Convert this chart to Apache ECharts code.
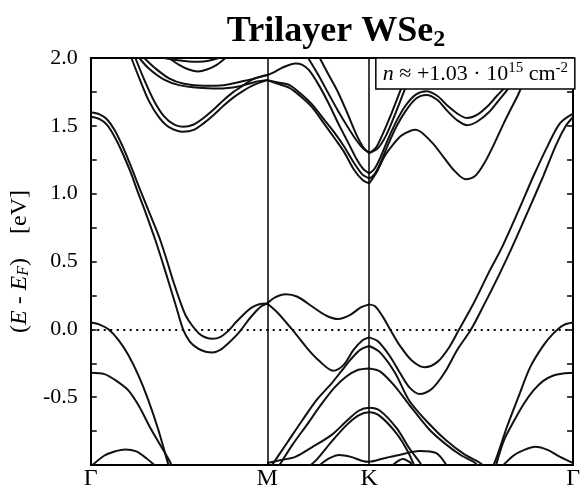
<!DOCTYPE html>
<html><head><meta charset="utf-8">
<script src="https://cdn.jsdelivr.net/npm/echarts@6/dist/echarts.min.js"></script>
<style>html,body{margin:0;padding:0;background:#fff}#c{width:583px;height:491px}</style>
</head><body><div id="c"></div>
<script>
// high-symmetry points along the k-path (Γ-M-K-Γ, units of 2π/a)
const symLabels = ['Γ', 'M', 'K', 'Γ'];
const symPos = [0, 0.5774, 0.9107, 1.5774];
const fermiLevel = 0;
const yMin = -1, yMax = 2, yStep = 0.5;

// ---- Γ - M ----
const bandA1 = [[0,1.60],[0.029,1.585],[0.052,1.55],[0.078,1.47],[0.104,1.35],[0.130,1.21],[0.156,1.06],[0.188,0.88],[0.208,0.77],[0.227,0.66],[0.250,0.50],[0.272,0.34],[0.295,0.19],[0.311,0.10],[0.331,0.03],[0.354,-0.03],[0.376,-0.06],[0.399,-0.07],[0.425,-0.055],[0.448,-0.015],[0.474,0.05],[0.500,0.11],[0.526,0.16],[0.551,0.185],[0.5774,0.19]];
const bandA2 = [[0,1.567],[0.029,1.55],[0.052,1.51],[0.078,1.42],[0.104,1.30],[0.130,1.16],[0.156,1.00],[0.178,0.87],[0.211,0.66],[0.234,0.50],[0.256,0.34],[0.279,0.17],[0.302,0.0],[0.324,-0.09],[0.350,-0.14],[0.376,-0.165],[0.399,-0.17],[0.425,-0.15],[0.451,-0.10],[0.474,-0.05],[0.493,0.0],[0.516,0.07],[0.539,0.13],[0.558,0.17],[0.5774,0.19]];
const bandC1 = [[0.146,2.0],[0.175,1.84],[0.208,1.68],[0.240,1.57],[0.272,1.51],[0.302,1.493],[0.337,1.51],[0.370,1.56],[0.402,1.62],[0.435,1.69],[0.467,1.75],[0.500,1.80],[0.532,1.845],[0.5774,1.874]];
const bandC2 = [[0.133,2.0],[0.159,1.85],[0.191,1.68],[0.224,1.56],[0.256,1.49],[0.302,1.456],[0.337,1.47],[0.370,1.52],[0.402,1.58],[0.435,1.65],[0.467,1.71],[0.500,1.76],[0.532,1.80],[0.5774,1.837]];
const bandC3 = [[0.159,2.0],[0.191,1.92],[0.240,1.84],[0.289,1.80],[0.354,1.78],[0.418,1.775],[0.483,1.79],[0.532,1.82],[0.5774,1.837]];
const bandC4 = [[0.175,2.0],[0.208,1.93],[0.256,1.85],[0.305,1.81],[0.370,1.795],[0.435,1.80],[0.500,1.83],[0.5774,1.874]];
const bandD1 = [[0.256,2.0],[0.289,1.95],[0.321,1.915],[0.350,1.90],[0.380,1.915],[0.412,1.95],[0.441,2.0]];
const bandD2 = [[0.240,2.0],[0.279,1.985],[0.321,1.975],[0.354,1.972],[0.386,1.98],[0.418,2.0]];
const bandL1 = [[0,0.05],[0.029,0.035],[0.058,0.0],[0.091,-0.08],[0.123,-0.19],[0.156,-0.34],[0.188,-0.52],[0.221,-0.74],[0.253,-0.99],[0.260,-1.04]];
const bandL2 = [[0,-0.32],[0.045,-0.33],[0.084,-0.38],[0.123,-0.45],[0.159,-0.57],[0.191,-0.71],[0.224,-0.84],[0.260,-0.98],[0.269,-1.04]];
const bandL3 = [[0.006,-1.0],[0.045,-0.93],[0.078,-0.90],[0.114,-0.885],[0.149,-0.90],[0.182,-0.95],[0.208,-1.0]];

// ---- M - K ----
const bandV1 = [[0.5774,0.19],[0.603,0.235],[0.638,0.258],[0.676,0.24],[0.723,0.17],[0.771,0.10],[0.809,0.076],[0.851,0.11],[0.882,0.16],[0.9107,0.184]];
const bandV2 = [[0.5774,0.19],[0.612,0.12],[0.669,-0.03],[0.708,-0.14],[0.746,-0.23],[0.793,-0.305],[0.828,-0.26],[0.860,-0.15],[0.889,-0.08],[0.9107,-0.059]];
const bandV3 = [[0.587,-1.02],[0.644,-0.83],[0.692,-0.67],[0.739,-0.52],[0.787,-0.40],[0.819,-0.31],[0.851,-0.22],[0.882,-0.15],[0.9107,-0.123]];
const bandV4 = [[0.612,-1.02],[0.660,-0.85],[0.708,-0.70],[0.755,-0.55],[0.797,-0.43],[0.835,-0.35],[0.873,-0.30],[0.9107,-0.288]];
const bandX1 = [[0.5774,-0.985],[0.612,-0.968],[0.669,-0.94],[0.723,-0.87],[0.787,-0.78],[0.835,-0.68],[0.876,-0.60],[0.9107,-0.578],[0.946,-0.60],[1.001,-0.73],[1.043,-0.88],[1.076,-0.98],[1.089,-1.03]];
const bandX2 = [[0.708,-1.02],[0.739,-0.96],[0.787,-0.83],[0.835,-0.71],[0.876,-0.635],[0.9107,-0.612],[0.946,-0.64],[1.001,-0.77],[1.037,-0.90],[1.063,-1.03]];
const bandX3 = [[0.749,-1.0],[0.781,-0.95],[0.812,-0.926],[0.851,-0.94],[0.889,-0.97],[0.9107,-0.976],[0.960,-0.95],[1.000,-0.93],[1.076,-0.897],[1.130,-0.913],[1.163,-1.0]];
const bandX4 = [[0.988,-1.0],[1.021,-0.955],[1.050,-0.99]];
const bandU1 = [[0.5774,1.874],[0.603,1.90],[0.628,1.93],[0.669,1.96],[0.692,1.95],[0.714,1.91],[0.746,1.80],[0.777,1.67],[0.809,1.52],[0.841,1.38],[0.873,1.24],[0.892,1.18],[0.9107,1.15]];
const bandU2 = [[0.711,2.0],[0.743,1.88],[0.777,1.74],[0.809,1.61],[0.841,1.49],[0.870,1.39],[0.892,1.33],[0.9107,1.30]];
const bandU3 = [[0.749,2.0],[0.777,1.88],[0.806,1.76],[0.838,1.60],[0.870,1.43],[0.892,1.34],[0.9107,1.30]];
const bandU4 = [[0.5774,1.837],[0.612,1.82],[0.650,1.80],[0.685,1.74],[0.723,1.66],[0.762,1.55],[0.797,1.45],[0.828,1.35],[0.860,1.23],[0.889,1.14],[0.9107,1.113]];
const bandU5 = [[0.5774,1.837],[0.612,1.81],[0.650,1.78],[0.685,1.72],[0.723,1.64],[0.762,1.52],[0.797,1.41],[0.828,1.31],[0.860,1.18],[0.889,1.10],[0.9107,1.076]];

// ---- K - Γ ----
const bandW1 = [[0.9107,0.184],[0.930,0.17],[0.956,0.09],[0.979,0.0],[1.011,-0.12],[1.050,-0.23],[1.092,-0.28],[1.134,-0.24],[1.173,-0.13],[1.205,0.0],[1.254,0.2],[1.302,0.42],[1.344,0.6],[1.400,0.88],[1.448,1.13],[1.496,1.36],[1.535,1.52],[1.5774,1.59]];
const bandW2 = [[0.9107,-0.059],[0.940,-0.09],[0.979,-0.2],[1.011,-0.32],[1.043,-0.43],[1.076,-0.477],[1.115,-0.44],[1.157,-0.32],[1.199,-0.15],[1.244,0.0],[1.286,0.18],[1.335,0.40],[1.377,0.6],[1.432,0.88],[1.480,1.13],[1.522,1.36],[1.554,1.50],[1.5774,1.565]];
const bandW3 = [[0.9107,-0.123],[0.946,-0.17],[0.995,-0.32],[1.043,-0.53],[1.108,-0.70],[1.163,-0.82],[1.221,-0.92],[1.270,-0.98],[1.296,-1.03]];
const bandW4 = [[0.9107,-0.288],[0.946,-0.31],[0.995,-0.42],[1.043,-0.56],[1.108,-0.74],[1.163,-0.85],[1.212,-0.93],[1.254,-0.98],[1.276,-1.03]];
const bandG1 = [[1.312,-1.03],[1.328,-0.94],[1.361,-0.72],[1.400,-0.49],[1.438,-0.275],[1.480,-0.12],[1.513,-0.03],[1.545,0.03],[1.5774,0.05]];
const bandG2 = [[1.322,-1.03],[1.351,-0.82],[1.383,-0.68],[1.416,-0.55],[1.448,-0.45],[1.480,-0.38],[1.513,-0.34],[1.545,-0.325],[1.5774,-0.32]];
const bandG3 = [[1.341,-1.02],[1.383,-0.93],[1.416,-0.89],[1.454,-0.865],[1.496,-0.89],[1.535,-0.94],[1.5774,-0.985]];
const bandY1 = [[0.9107,1.30],[0.933,1.34],[0.953,1.43],[0.985,1.60],[1.011,1.75],[1.034,1.88],[1.053,2.0]];
const bandY2 = [[0.9107,1.30],[0.937,1.33],[0.966,1.43],[0.998,1.60],[1.024,1.75],[1.047,1.88],[1.066,2.0]];
const bandY3 = [[0.9107,1.15],[0.927,1.18],[0.946,1.26],[0.972,1.40],[1.001,1.54],[1.030,1.65],[1.063,1.73],[1.098,1.755],[1.134,1.72],[1.166,1.65],[1.199,1.59],[1.231,1.557],[1.263,1.58],[1.296,1.64],[1.328,1.72],[1.361,1.80],[1.383,1.87],[1.402,1.95],[1.412,2.0]];
const bandY4 = [[0.9107,1.11],[0.927,1.14],[0.946,1.22],[0.972,1.36],[1.001,1.50],[1.030,1.61],[1.063,1.70],[1.098,1.727],[1.134,1.69],[1.166,1.61],[1.199,1.54],[1.231,1.505],[1.263,1.53],[1.302,1.60],[1.335,1.69],[1.367,1.78],[1.390,1.87],[1.409,1.95],[1.419,2.0]];
const bandY5 = [[0.9107,1.076],[0.933,1.15],[0.962,1.28],[0.988,1.36],[1.017,1.43],[1.063,1.472],[1.115,1.38],[1.157,1.26],[1.189,1.17],[1.225,1.107],[1.257,1.13],[1.286,1.22],[1.318,1.36],[1.351,1.52],[1.373,1.62],[1.400,1.74],[1.422,1.87],[1.441,2.0]];

const bands = [bandA1,bandA2,bandC1,bandC2,bandC3,bandC4,bandD1,bandD2,bandL1,bandL2,bandL3,
  bandV1,bandV2,bandV3,bandV4,bandX1,bandX2,bandX3,bandX4,bandU1,bandU2,bandU3,bandU4,bandU5,
  bandW1,bandW2,bandW3,bandW4,bandG1,bandG2,bandG3,bandY1,bandY2,bandY3,bandY4,bandY5];

const FONT = '"Liberation Serif", "Times New Roman", serif';
const BLACK = '#000';

const series = bands.map(b => ({
  type: 'line', data: b, showSymbol: false, smooth: 0.3, silent: true, clip: true,
  lineStyle: { color: '#111', width: 2 }
}));
series[0].markLine = {
  silent: true, symbol: 'none', label: { show: false },
  data: [
    { yAxis: fermiLevel, lineStyle: { type: [2, 4.5], width: 1.8, color: BLACK } },
    { xAxis: symPos[1], lineStyle: { type: 'solid', width: 1.5, color: BLACK } },
    { xAxis: symPos[2], lineStyle: { type: 'solid', width: 1.5, color: BLACK } }
  ]
};

const axisLineStyle = { show: true, onZero: false, lineStyle: { color: BLACK, width: 2 } };
const tickStyle = { color: BLACK, width: 1.5 };

const chart = echarts.init(document.getElementById('c'), null, { renderer: 'canvas' });
chart.setOption({
  animation: false,
  backgroundColor: '#fff',
  title: [
    {
      text: '{b|Trilayer WSe}{s|2}',
      left: 331, top: 7, textAlign: 'center',
      textStyle: {
        rich: {
          b: { fontFamily: FONT, fontSize: 36, fontWeight: 'bold', color: BLACK, lineHeight: 40 },
          s: { fontFamily: FONT, fontSize: 24, fontWeight: 'bold', color: BLACK, lineHeight: 14, verticalAlign: 'bottom' }
        }
      }
    },
    {
      text: '{i|n} ≈ +1.03 · 10{sup|15} cm{sup|-2}',
      right: 8, top: 58,
      backgroundColor: '#fff', borderColor: BLACK, borderWidth: 1.5,
      padding: [3, 7, 2, 7],
      textStyle: {
        fontFamily: FONT, fontSize: 22, color: BLACK, fontWeight: 'normal', lineHeight: 26,
        rich: {
          i: { fontFamily: FONT, fontSize: 22, fontStyle: 'italic', color: BLACK, lineHeight: 26 },
          sup: { fontFamily: FONT, fontSize: 15, color: BLACK, lineHeight: 14, verticalAlign: 'top' }
        }
      }
    }
  ],
  grid: { left: 86, right: 8, top: 58, bottom: 26, containLabel: false },
  xAxis: [
    {
      type: 'value', min: symPos[0], max: symPos[3], position: 'bottom',
      axisLine: axisLineStyle, axisTick: { show: false }, splitLine: { show: false },
      axisLabel: {
        customValues: symPos,
        formatter: v => symLabels[symPos.indexOf(v)],
        fontFamily: FONT, fontSize: 24, color: BLACK, margin: 2
      }
    },
    {
      type: 'value', min: symPos[0], max: symPos[3], position: 'top',
      axisLine: axisLineStyle, axisTick: { show: false }, splitLine: { show: false },
      axisLabel: { show: false }
    }
  ],
  yAxis: [
    {
      type: 'value', min: yMin, max: yMax, interval: yStep, position: 'left',
      axisLine: axisLineStyle,
      axisTick: { show: true, inside: true, length: 6, lineStyle: tickStyle },
      minorTick: { show: true, splitNumber: 2, length: 6, lineStyle: tickStyle },
      splitLine: { show: false },
      axisLabel: {
        formatter: v => (v === yMin ? '' : v.toFixed(1)),
        fontFamily: FONT, fontSize: 22, color: BLACK, margin: 13
      },
      name: '({i|E} - {i|E}{sub|F})    [eV]',
      nameLocation: 'middle', nameRotate: 90, nameGap: 52,
      nameTextStyle: {
        fontFamily: FONT, fontSize: 24, color: BLACK,
        rich: {
          i: { fontFamily: FONT, fontSize: 24, fontStyle: 'italic', color: BLACK },
          sub: { fontFamily: FONT, fontSize: 16, fontStyle: 'italic', color: BLACK, lineHeight: 10, verticalAlign: 'bottom' }
        }
      }
    },
    {
      type: 'value', min: yMin, max: yMax, interval: yStep, position: 'right',
      axisLine: axisLineStyle,
      axisTick: { show: true, inside: true, length: 6, lineStyle: tickStyle },
      minorTick: { show: true, splitNumber: 2, length: 6, lineStyle: tickStyle },
      splitLine: { show: false },
      axisLabel: { show: false }
    }
  ],
  series: series
});
</script>
</body></html>
